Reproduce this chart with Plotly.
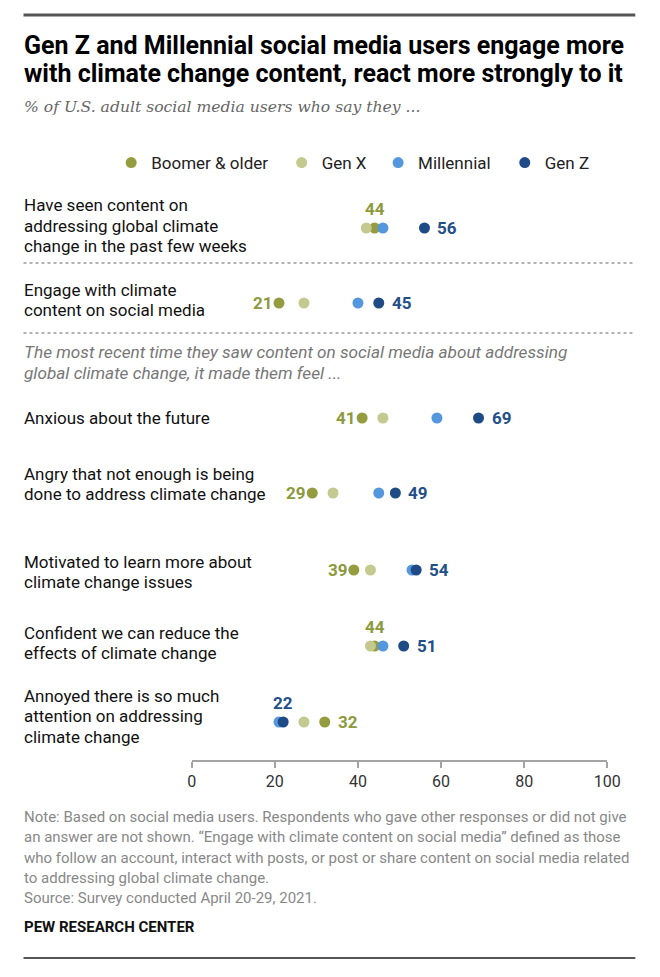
import plotly.graph_objects as go

# ---------------- data ----------------
categories = [
    "Have seen content on<br>addressing global climate<br>change in the past few weeks",
    "Engage with climate<br>content on social media",
    "Anxious about the future",
    "Angry that not enough is being<br>done to address climate change",
    "Motivated to learn more about<br>climate change issues",
    "Confident we can reduce the<br>effects of climate change",
    "Annoyed there is so much<br>attention on addressing<br>climate change",
]
series_names = ["Boomer & older", "Gen X", "Millennial", "Gen Z"]
boomer = [44, 21, 41, 29, 39, 44, 32]
genx = [42, 27, 46, 34, 43, 43, 27]
millennial = [46, 40, 59, 45, 53, 46, 21]
genz = [56, 45, 69, 49, 54, 51, 22]
x_ticks = [0, 20, 40, 60, 80, 100]

# which side the value label sits on (layout, not data)
boomer_label_side = ["top", "left", "left", "left", "left", "top", "right"]
genz_label_side = ["right", "right", "right", "right", "right", "right", "top"]

title_lines = ["Gen Z and Millennial social media users engage more",
               "with climate change content, react more strongly to it"]
subtitle = "% of U.S. adult social media users who say they ..."
section_lines = ["The most recent time they saw content on social media about addressing",
                 "global climate change, it made them feel ..."]
note_lines = [
    "Note: Based on social media users. Respondents who gave other responses or did not give",
    "an answer are not shown. \u201cEngage with climate content on social media\u201d defined as those",
    "who follow an account, interact with posts, or post or share content on social media related",
    "to addressing global climate change.",
    "Source: Survey conducted April 20-29, 2021.",
]
credit = "PEW RESEARCH CENTER"

# ---------------- layout constants (pixels) ----------------
W, H = 660, 977
row_y = [228, 303, 418, 493, 570, 646, 722]        # dot rows
label_y = [226, 300, 418, 484, 572, 643, 716]      # row-label centres
LINE_H = 20.5
AXIS_Y = 760
X0_PX, X100_PX = 192.7, 619.3

colors = ["#949c3f", "#c3c98f", "#5597dc", "#1e4a86"]
label_colors = ["#8d9a3c", "#c3c98f", "#5597dc", "#234f88"]
FONT = "Roboto"


def px(x):
    return x / W


def py(y):
    return 1 - y / H


fig = go.Figure()
all_series = [boomer, genx, millennial, genz]
legend_ids = ["legend", "legend2", "legend3", "legend4"]
for name, vals, col, lid in zip(series_names, all_series, colors, legend_ids):
    fig.add_trace(go.Scatter(
        x=vals, y=row_y, mode="markers", name=name,
        marker=dict(size=11, color=col, line=dict(width=0)),
        legend=lid, hoverinfo="x+name",
    ))

annotations = []


def text_line(txt, x, y, size, color, family=FONT):
    return dict(x=px(x), y=py(y), xref="paper", yref="paper", xanchor="left",
                yanchor="middle", align="left", showarrow=False, text=txt,
                borderpad=0, font=dict(family=family, size=size, color=color))


def value_label(val, y, side, color):
    base = dict(x=val, y=y, xref="x", yref="y", text="<b>%d</b>" % val,
                showarrow=False, borderpad=0, font=dict(family=FONT, size=17, color=color))
    if side == "right":
        base.update(xanchor="left", yanchor="middle", xshift=12)
    elif side == "left":
        base.update(xanchor="right", yanchor="middle", xshift=-5)
    else:
        base.update(xanchor="center", yanchor="middle", yshift=19)
    return base


for v, y, s in zip(boomer, row_y, boomer_label_side):
    annotations.append(value_label(v, y, s, label_colors[0]))
for v, y, s in zip(genz, row_y, genz_label_side):
    annotations.append(value_label(v, y, s, label_colors[3]))

for cat, ly in zip(categories, label_y):
    lines = cat.split("<br>")
    n = len(lines)
    for i, ln in enumerate(lines):
        yy = ly + (i - (n - 1) / 2) * LINE_H
        annotations.append(text_line(ln, 20, yy, 17, "#111"))

# title, subtitle, section heading, notes
for i, ln in enumerate(title_lines):
    annotations.append(text_line("<b>%s</b>" % ln, 20, 45 + 29 * i, 25, "#000"))
annotations.append(text_line("<i>%s</i>" % subtitle, 20, 107, 15.6, "#666", "DejaVu Serif"))
for i, ln in enumerate(section_lines):
    annotations.append(text_line("<i>%s</i>" % ln, 20, 352 + 21 * i, 17.2, "#777"))
for i, ln in enumerate(note_lines):
    annotations.append(text_line(ln, 20, 817 + 20.3 * i, 15, "#888"))
annotations.append(text_line("<b>%s</b>" % credit, 20, 927, 15, "#111"))

shapes = [
    dict(type="line", xref="paper", yref="paper", x0=px(20), x1=px(648), y0=py(15), y1=py(15),
         line=dict(color="#555", width=3)),
    dict(type="line", xref="paper", yref="paper", x0=px(20), x1=px(648), y0=py(958), y1=py(958),
         line=dict(color="#555", width=2)),
    dict(type="line", xref="paper", yref="paper", x0=px(20), x1=px(648), y0=py(263), y1=py(263),
         line=dict(color="#999", width=1.5, dash="dot")),
    dict(type="line", xref="paper", yref="paper", x0=px(20), x1=px(648), y0=py(333), y1=py(333),
         line=dict(color="#999", width=1.5, dash="dot")),
]

legend_x = [110, 285, 384, 514]
legend_common = dict(orientation="h", yanchor="middle", xanchor="left",
                     font=dict(family=FONT, size=17, color="#222"),
                     bgcolor="rgba(0,0,0,0)", itemwidth=30, tracegroupgap=0)
legends = {}
for lid, lx in zip(legend_ids, legend_x):
    legends[lid] = dict(x=px(lx), y=py(163), **legend_common)

fig.update_layout(
    width=W, height=H, autosize=False,
    margin=dict(l=0, r=0, t=0, b=0),
    paper_bgcolor="white", plot_bgcolor="white",
    showlegend=True,
    xaxis=dict(domain=[px(X0_PX), px(X100_PX)], range=[0, 100], tickvals=x_ticks,
               showline=True, linecolor="#a3a3a3", linewidth=2, ticks="outside",
               ticklen=6, tickwidth=2, tickcolor="#a3a3a3", showgrid=False, zeroline=False,
               tickfont=dict(family=FONT, size=16, color="#333"), fixedrange=True),
    yaxis=dict(domain=[1 - AXIS_Y / H, 1], range=[AXIS_Y, 0], visible=False,
               showgrid=False, zeroline=False, fixedrange=True),
    annotations=annotations,
    shapes=shapes,
    **legends,
)

fig.write_html(
    "out.html",
    config={"displayModeBar": False, "responsive": False},
    post_script=("document.documentElement.style.margin='0';"
                 "document.documentElement.style.overflow='hidden';"
                 "document.body.style.margin='0';document.body.style.padding='0';"
                 "document.body.style.overflow='hidden';"),
)
